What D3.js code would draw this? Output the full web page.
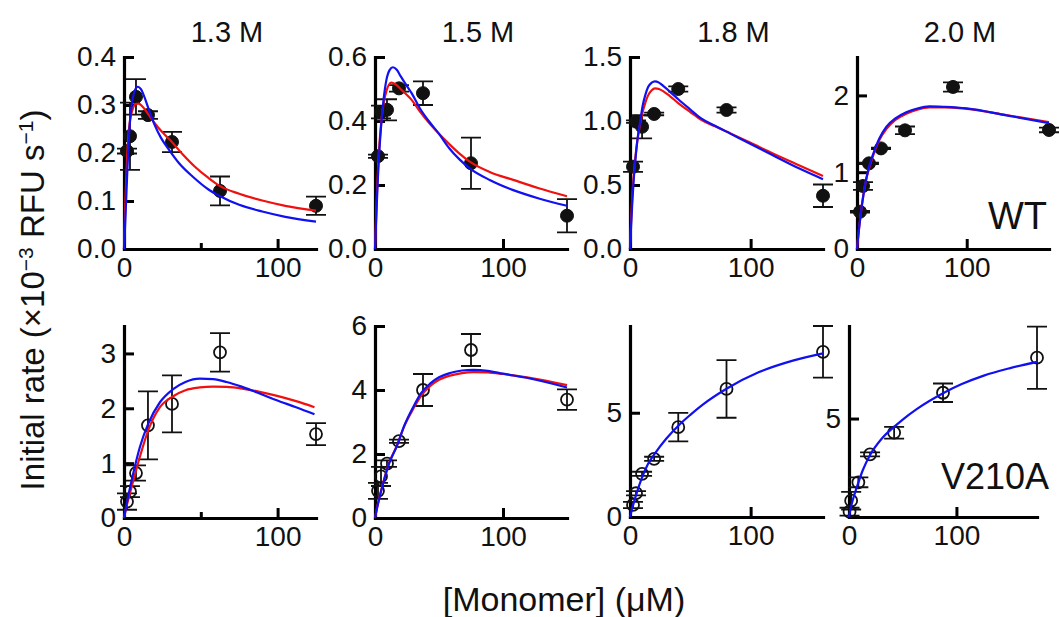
<!DOCTYPE html>
<html>
<head>
<meta charset="utf-8">
<script src="https://cdn.jsdelivr.net/npm/d3@7"></script>
<style>
  body { margin: 0; background: #fff; }
  svg { display: block; }
  text { font-family: "Liberation Sans", Arial, sans-serif; fill: #111; }
</style>
</head>
<body>
<div id="chart-container"></div>
<script>
/* Titles */
const saltLabels = ['1.3 M', '1.5 M', '1.8 M', '2.0 M'];
const rowLabels = ['WT', 'V210A'];

/* Axes (one entry per column / row) */
const xMax = [125, 150, 160, 175];
const yMaxWT = [0.4, 0.6, 1.5, 2.5];
const yMaxV210A = [3.5, 6, 9.16, 9.7];
const yTicksWT = [[0, 0.1, 0.2, 0.3, 0.4], [0, 0.2, 0.4, 0.6], [0, 0.5, 1.0, 1.5], [0, 1, 2]];
const yTicksV210A = [[0, 1, 2, 3], [0, 2, 4, 6], [0, 5], [5]];
const xTicksMajor = [0, 100];
const xTicksMinor = [[50], [], [], []];

/* WT data, filled circles */
const wtX = [
  [1.95, 3.9, 7.8, 15.6, 31.25, 62.5, 125],
  [2.34, 4.69, 9.375, 18.75, 37.5, 75, 150],
  [2.5, 5, 10, 20, 40, 80, 160],
  [2.73, 5.47, 10.9, 21.9, 43.75, 87.5, 175]
];
const wtY = [
  [0.204, 0.235, 0.317, 0.279, 0.223, 0.121, 0.090],
  [0.290, 0.428, 0.435, 0.502, 0.487, 0.268, 0.104],
  [0.643, 0.995, 0.955, 1.055, 1.250, 1.086, 0.416],
  [0.485, 0.820, 1.115, 1.310, 1.545, 2.110, 1.550]
];
const wtErr = [
  [0.005, 0.070, 0.037, 0.008, 0.021, 0.030, 0.019],
  [0.005, 0.020, 0.033, 0.010, 0.037, 0.080, 0.052],
  [0.040, 0.010, 0.090, 0.010, 0.020, 0.020, 0.088],
  [0.010, 0.050, 0.010, 0.010, 0.050, 0.060, 0.030]
];

/* V210A data, open circles */
const mutX = [
  [1.95, 3.9, 7.8, 15.6, 31.25, 62.5, 125],
  [2.34, 4.69, 9.375, 18.75, 37.5, 75, 150],
  [2.5, 5, 10, 20, 40, 80, 160],
  [0.5, 2.0, 8.7, 19.6, 42, 87.5, 175]
];
const mutY = [
  [0.30, 0.48, 0.82, 1.69, 2.08, 3.02, 1.53],
  [0.85, 1.30, 1.70, 2.40, 4.00, 5.25, 3.70],
  [0.58, 1.14, 2.07, 2.79, 4.31, 6.14, 7.92],
  [0.27, 0.83, 1.76, 3.18, 4.28, 6.31, 8.09]
];
const mutErr = [
  [0.15, 0.10, 0.14, 0.62, 0.52, 0.35, 0.20],
  [0.25, 0.30, 0.10, 0.05, 0.50, 0.50, 0.32],
  [0.15, 0.10, 0.10, 0.10, 0.68, 1.38, 1.24],
  [0.20, 0.45, 0.25, 0.10, 0.30, 0.47, 1.58]
];

/* Fitted curves: red and blue */
const wtRedFit = [
  [[0,0],[1,0.11],[2,0.19],[3,0.24],[4,0.27],[5.5,0.29],[7.5,0.302],[9.5,0.303],[12,0.297],[16,0.28],[20,0.262],[25,0.243],[30,0.227],[38,0.198],[46,0.172],[55,0.148],[62,0.132],[75,0.115],[90,0.101],[105,0.09],[125,0.08]],
  [[0,0],[1,0.12],[2,0.22],[3,0.3],[4.5,0.38],[6.5,0.45],[9,0.495],[12.8,0.52],[16,0.515],[20,0.5],[24,0.485],[28.6,0.466],[35,0.43],[42,0.395],[50,0.36],[58,0.328],[66,0.298],[74,0.273],[90,0.24],[108,0.216],[128,0.19],[150,0.165]],
  [[0,0],[1,0.24],[2,0.43],[3,0.57],[4.4,0.71],[6,0.84],[8.5,0.98],[10.5,1.07],[12.6,1.14],[15,1.2],[18,1.24],[20.7,1.255],[24,1.25],[28,1.23],[33,1.195],[40,1.14],[50,1.07],[59,1.01],[70,0.96],[80,0.917],[100,0.83],[118,0.748],[140,0.655],[160,0.57]],
  [[0,0],[1,0.15],[3.1,0.42],[6,0.72],[8.8,0.93],[14.8,1.22],[20,1.41],[26.7,1.56],[35,1.68],[44.9,1.76],[55,1.815],[66,1.845],[80,1.845],[100,1.825],[136,1.745],[175,1.65]]
];
const wtBlueFit = [
  [[0,0],[1,0.07],[2,0.15],[3,0.22],[4,0.27],[5.5,0.31],[7,0.33],[9,0.338],[11,0.333],[13.5,0.315],[16,0.292],[20,0.258],[24,0.232],[29,0.208],[36,0.178],[45,0.15],[55,0.124],[62,0.111],[75,0.092],[90,0.078],[105,0.067],[125,0.057]],
  [[0,0],[1,0.1],[2,0.2],[3,0.28],[4.5,0.37],[6.5,0.46],[9,0.53],[11.5,0.56],[14,0.568],[17,0.56],[20,0.54],[24,0.515],[28.6,0.487],[35,0.44],[42,0.4],[50,0.36],[58,0.315],[66,0.28],[74,0.252],[90,0.215],[108,0.184],[128,0.158],[150,0.135]],
  [[0,0],[1,0.2],[2,0.38],[3,0.53],[4.4,0.69],[6,0.84],[8.5,1.0],[10.5,1.12],[12.6,1.2],[15,1.265],[18,1.3],[20.7,1.31],[24,1.3],[28,1.27],[33,1.23],[40,1.17],[50,1.09],[59,1.02],[70,0.965],[80,0.917],[100,0.82],[118,0.734],[140,0.63],[160,0.545]],
  [[0,0],[1,0.15],[3.1,0.42],[6,0.72],[8.8,0.94],[14.8,1.24],[20,1.43],[26.7,1.59],[35,1.7],[44.9,1.78],[55,1.83],[66,1.857],[80,1.85],[100,1.83],[136,1.74],[175,1.64]]
];
const mutRedFit = [
  [[0,0],[2,0.25],[5,0.57],[10.4,1.12],[15.8,1.6],[23.4,2.02],[32,2.22],[40,2.33],[49.4,2.38],[58,2.395],[66.7,2.39],[77,2.36],[88.3,2.3],[99,2.23],[112,2.13],[124,2.02]],
  [[0,0],[2,0.4],[6.5,1.12],[11,1.72],[17,2.25],[23,2.88],[30,3.42],[36,3.82],[43,4.12],[50,4.32],[58.6,4.45],[68,4.53],[76.8,4.56],[88,4.55],[100,4.5],[121,4.38],[150,4.15]],
  null,
  null
];
const mutBlueFit = [
  [[0,0],[2,0.3],[5,0.69],[10.4,1.3],[15.8,1.72],[23.4,2.11],[32,2.35],[40,2.48],[49.4,2.54],[58,2.53],[66.7,2.48],[77,2.39],[88.3,2.27],[99,2.15],[112,2.02],[124,1.89]],
  [[0,0],[2,0.38],[6.5,1.1],[11,1.7],[17,2.24],[23,2.9],[30,3.48],[36,3.9],[43,4.2],[50,4.4],[58.6,4.53],[68,4.61],[76.8,4.63],[88,4.6],[100,4.51],[121,4.36],[150,4.08]],
  [[0,0],[2,0.45],[5,1.05],[9.7,1.85],[15,2.55],[20.7,3.05],[30,3.75],[41.3,4.45],[50,4.9],[60.6,5.4],[80,6.15],[107,6.95],[135,7.5],[160,7.85]],
  [[0,0],[1,0.3],[4,0.95],[8.7,1.75],[13,2.4],[19.6,3.15],[30,3.95],[41.4,4.55],[50,4.95],[63,5.48],[88,6.3],[105,6.75],[125.5,7.18],[150,7.56],[175,7.88]]
];

/* Dimensions */
let width = 1059, height = 617;
let colX0 = [[124, 375, 630, 857], [124, 375, 630, 849]];
let colX1 = [[316, 567, 823, 1049], [316, 567, 823, 1037]];
let rowBottom = [[249, 249, 249, 249], [518, 518, 517, 517]];
let rowTop = [57, 326];

let svg = d3.select('#chart-container')
  .append('svg')
  .attr('width', width)
  .attr('height', height);

let line = d3.line().curve(d3.curveMonotoneX);

function drawPanel(row, col) {
  let wt = row === 0;
  let x = d3.scaleLinear().domain([0, xMax[col]]).range([colX0[row][col], colX1[row][col]]);
  let y = d3.scaleLinear()
    .domain([0, wt ? yMaxWT[col] : yMaxV210A[col]])
    .range([rowBottom[row][col], rowTop[row]]);

  let g = svg.append('g');

  // y axis, ticks pointing in
  let fmt = (wt && col < 3) ? d3.format('.1f') : d3.format('d');
  g.append('g')
    .attr('transform', 'translate(' + x(0) + ',0)')
    .call(d3.axisLeft(y)
      .tickValues(wt ? yTicksWT[col] : yTicksV210A[col])
      .tickFormat(fmt)
      .tickSizeInner(-10).tickSizeOuter(0).tickPadding(8));

  // x axis
  g.append('g')
    .attr('transform', 'translate(0,' + y(0) + ')')
    .call(d3.axisBottom(x)
      .tickValues(xTicksMajor)
      .tickFormat(d3.format('d'))
      .tickSizeInner(-10).tickSizeOuter(0).tickPadding(8));

  g.append('g')
    .attr('transform', 'translate(0,' + y(0) + ')')
    .call(d3.axisBottom(x)
      .tickValues(xTicksMinor[col])
      .tickFormat('')
      .tickSizeInner(-6).tickSizeOuter(0))
    .select('.domain').remove();

  g.selectAll('.domain').attr('stroke-width', 3.2).attr('stroke-linecap', 'square');
  g.selectAll('.tick line').attr('stroke-width', 3);
  g.selectAll('.tick text').style('font-size', '28px');

  // data
  let xs = wt ? wtX[col] : mutX[col];
  let ys = wt ? wtY[col] : mutY[col];
  let es = wt ? wtErr[col] : mutErr[col];
  let pts = xs.map((v, i) => ({ x: v, y: ys[i], e: es[i] }));

  let bars = g.append('g').attr('stroke', '#111').attr('stroke-width', 1.8).attr('fill', 'none');
  pts.forEach(p => {
    let cx = x(p.x), hi = y(p.y + p.e), lo = y(Math.max(0, p.y - p.e));
    bars.append('path')
      .attr('d', 'M' + cx + ',' + hi + 'V' + lo +
        'M' + (cx - 10) + ',' + hi + 'H' + (cx + 10) +
        'M' + (cx - 10) + ',' + lo + 'H' + (cx + 10));
  });

  g.append('g').selectAll('circle')
    .data(pts)
    .enter().append('circle')
    .attr('cx', d => x(d.x))
    .attr('cy', d => y(d.y))
    .attr('r', wt ? 6.5 : 6)
    .attr('fill', wt ? '#111' : 'none')
    .attr('stroke', '#111')
    .attr('stroke-width', wt ? 1 : 1.8);

  // fits, red under blue
  let red = wt ? wtRedFit[col] : mutRedFit[col];
  let blue = wt ? wtBlueFit[col] : mutBlueFit[col];
  if (red) {
    g.append('path')
      .attr('d', line(red.map(d => [x(d[0]), y(d[1])])))
      .attr('fill', 'none').attr('stroke', '#f01010').attr('stroke-width', 2.2);
  }
  if (blue) {
    g.append('path')
      .attr('d', line(blue.map(d => [x(d[0]), y(d[1])])))
      .attr('fill', 'none').attr('stroke', '#1010f0').attr('stroke-width', 2.2);
  }

  if (wt) {
    g.append('text')
      .attr('x', (colX0[0][col] + colX1[0][col]) / 2 + 7)
      .attr('y', 42)
      .attr('text-anchor', 'middle')
      .style('font-size', '29px')
      .text(saltLabels[col]);
  }
}

for (let r = 0; r < 2; r++)
  for (let c = 0; c < 4; c++)
    drawPanel(r, c);

/* Row labels */
svg.append('text').attr('x', 1047).attr('y', 229).attr('text-anchor', 'end')
  .style('font-size', '38px').text(rowLabels[0]);
svg.append('text').attr('x', 1049).attr('y', 489).attr('text-anchor', 'end')
  .style('font-size', '36px').text(rowLabels[1]);

/* Axis titles */
let yTitle = svg.append('text')
  .attr('transform', 'translate(44,300) rotate(-90)')
  .attr('text-anchor', 'middle')
  .style('font-size', '33px');
yTitle.append('tspan').text('Initial rate (\u00d710');
yTitle.append('tspan').attr('baseline-shift', 'super').style('font-size', '21px').text('\u22123');
yTitle.append('tspan').text(' RFU s');
yTitle.append('tspan').attr('baseline-shift', 'super').style('font-size', '21px').text('\u22121');
yTitle.append('tspan').text(')');

svg.append('text')
  .attr('x', 564).attr('y', 611)
  .attr('text-anchor', 'middle')
  .style('font-size', '34px')
  .text('[Monomer] (\u03bcM)');
</script>
</body>
</html>
